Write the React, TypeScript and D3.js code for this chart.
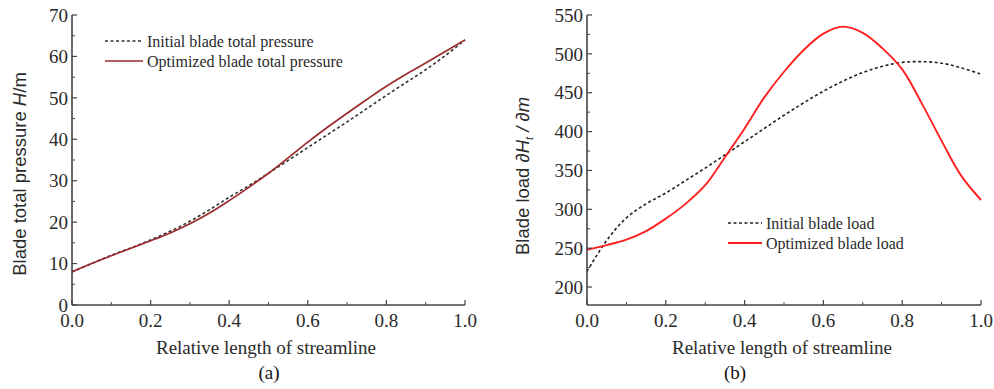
import React from "react";
import * as d3 from "d3";

const xs = [0, 0.05, 0.1, 0.15, 0.2, 0.25, 0.3, 0.35, 0.4, 0.45, 0.5, 0.55, 0.6, 0.65, 0.7, 0.75, 0.8, 0.85, 0.9, 0.95, 1.0];

// Chart (a): blade total pressure H (m)
const initialPressure = [8, 10, 12, 13.8, 15.7, 17.8, 20.2, 23, 26, 28.8, 31.8, 34.9, 38.0, 41.1, 44.2, 47.4, 50.6, 53.7, 56.8, 60.2, 64];
const optimizedPressure = [8, 10, 11.9, 13.7, 15.5, 17.4, 19.6, 22.2, 25.2, 28.4, 31.8, 35.5, 39.3, 42.9, 46.3, 49.6, 52.8, 55.7, 58.4, 61.2, 64];

// Chart (b): blade load
const initialLoad = [220, 260, 289, 307, 321, 337, 353, 370, 387, 404, 421, 437, 452, 465, 476, 484, 489, 490, 488, 482, 474];
const optimizedLoad = [248, 254, 261, 272, 288, 307, 331, 367, 404, 444, 477, 505, 526, 535, 527, 507, 480, 436, 388, 343, 312];

const xTicks = [0, 0.2, 0.4, 0.6, 0.8, 1.0];
const xMinor = [0.1, 0.3, 0.5, 0.7, 0.9];
const yTicksA = [0, 10, 20, 30, 40, 50, 60, 70];
const yMinorA = [5, 15, 25, 35, 45, 55, 65];
const yTicksB = [200, 250, 300, 350, 400, 450, 500, 550];
const yMinorB = [225, 275, 325, 375, 425, 475, 525];

const serif = "'Liberation Serif', 'Times New Roman', serif";
const sans = "'Liberation Sans', Arial, sans-serif";
const axisColor = "#444";
const textColor = "#2a2a2a";

function Panel(props: any) {
  const { x0, x1, yTop, yBottom, yDomain, yTicks, yMinor, series, legend, yLabel, caption, captionX, titleX, yLabelX, yLabelY, legendX, legendY, legendLen, legendSize } = props;
  const x = d3.scaleLinear().domain([0, 1]).range([x0, x1]);
  const y = d3.scaleLinear().domain(yDomain).range([yBottom, yTop]);
  const line = d3.line<number>().x((_, i) => x(xs[i])).y((d) => y(d)).curve(d3.curveCatmullRom.alpha(0.5));
  return (
    <g>
      {series.map((s: any, i: number) => (
        <path key={i} d={line(s.values) || ""} fill="none" stroke={s.color} strokeWidth={s.width} strokeDasharray={s.dash} />
      ))}
      <line x1={x0} x2={x0} y1={yTop} y2={yBottom} stroke={axisColor} strokeWidth={1.6} />
      <line x1={x0} x2={x1} y1={yBottom} y2={yBottom} stroke={axisColor} strokeWidth={1.6} />
      {yTicks.map((t: number) => (
        <g key={"yt" + t}>
          <line x1={x0} x2={x0 + 5} y1={y(t)} y2={y(t)} stroke={axisColor} strokeWidth={1.2} />
          <text x={x0 - 4} y={y(t)} dy="0.35em" textAnchor="end" fontFamily={serif} fontSize={19} fill={textColor}>{t}</text>
        </g>
      ))}
      {yMinor.map((t: number) => (
        <line key={"ym" + t} x1={x0} x2={x0 + 3} y1={y(t)} y2={y(t)} stroke={axisColor} strokeWidth={1} />
      ))}
      {xTicks.map((t: number) => (
        <g key={"xt" + t}>
          <line x1={x(t)} x2={x(t)} y1={yBottom} y2={yBottom - 5} stroke={axisColor} strokeWidth={1.2} />
          <text x={x(t)} y={yBottom + 22} textAnchor="middle" fontFamily={serif} fontSize={19} fill={textColor}>{t.toFixed(1)}</text>
        </g>
      ))}
      {xMinor.map((t: number) => (
        <line key={"xm" + t} x1={x(t)} x2={x(t)} y1={yBottom} y2={yBottom - 3} stroke={axisColor} strokeWidth={1} />
      ))}
      <text x={titleX} y={354} textAnchor="middle" fontFamily={serif} fontSize={19} fill={textColor}>Relative length of streamline</text>
      <text x={captionX} y={379} textAnchor="middle" fontFamily={serif} fontSize={19} fill="#111">{caption}</text>
      <text transform={`translate(${yLabelX},${yLabelY}) rotate(-90)`} textAnchor="middle" fontFamily={sans} fontSize={18.5} fill={textColor}>
        {yLabel}
      </text>
      {legend.map((l: any, i: number) => (
        <g key={"lg" + i}>
          <line x1={legendX} x2={legendX + legendLen} y1={legendY + i * 20} y2={legendY + i * 20} stroke={l.color} strokeWidth={l.width} strokeDasharray={l.dash} />
          <text x={legendX + legendLen + 4} y={legendY + i * 20} dy="0.35em" fontFamily={serif} fontSize={legendSize} fill={textColor}>{l.label}</text>
        </g>
      ))}
    </g>
  );
}

export default function App() {
  const seriesA = [
    { values: initialPressure, color: "#333", width: 1.6, dash: "3,2.5", label: "Initial blade total pressure" },
    { values: optimizedPressure, color: "#9a2a2e", width: 1.7, dash: undefined, label: "Optimized blade total pressure" },
  ];
  const seriesB = [
    { values: initialLoad, color: "#222", width: 1.6, dash: "3,2.5", label: "Initial blade load" },
    { values: optimizedLoad, color: "#ff2020", width: 1.9, dash: undefined, label: "Optimized blade load" },
  ];
  return (
    <svg width={994} height={389} style={{ position: "absolute", left: 0, top: 0, background: "#fff" }}>
      <rect width={994} height={389} fill="#fff" />
      <Panel
        x0={72} x1={465} yTop={15} yBottom={305} yDomain={[0, 70]}
        yTicks={yTicksA} yMinor={yMinorA} series={seriesA} legend={seriesA}
        yLabel={<><tspan>Blade total pressure </tspan><tspan fontStyle="italic">H</tspan><tspan>/m</tspan></>}
        caption="(a)" captionX={269} titleX={266} yLabelX={26} yLabelY={174}
        legendX={105} legendY={41} legendLen={38} legendSize={16}
      />
      <Panel
        x0={587} x1={981} yTop={15} yBottom={305} yDomain={[176.9, 550]}
        yTicks={yTicksB} yMinor={yMinorB} series={seriesB} legend={seriesB}
        yLabel={<><tspan>Blade load ∂</tspan><tspan fontStyle="italic">H</tspan><tspan fontSize={11} dy={4} fontStyle="italic">t</tspan><tspan dy={-4} fontStyle="italic"> / ∂m</tspan></>}
        caption="(b)" captionX={735} titleX={782} yLabelX={529} yLabelY={176}
        legendX={728} legendY={223} legendLen={34} legendSize={16}
      />
    </svg>
  );
}
